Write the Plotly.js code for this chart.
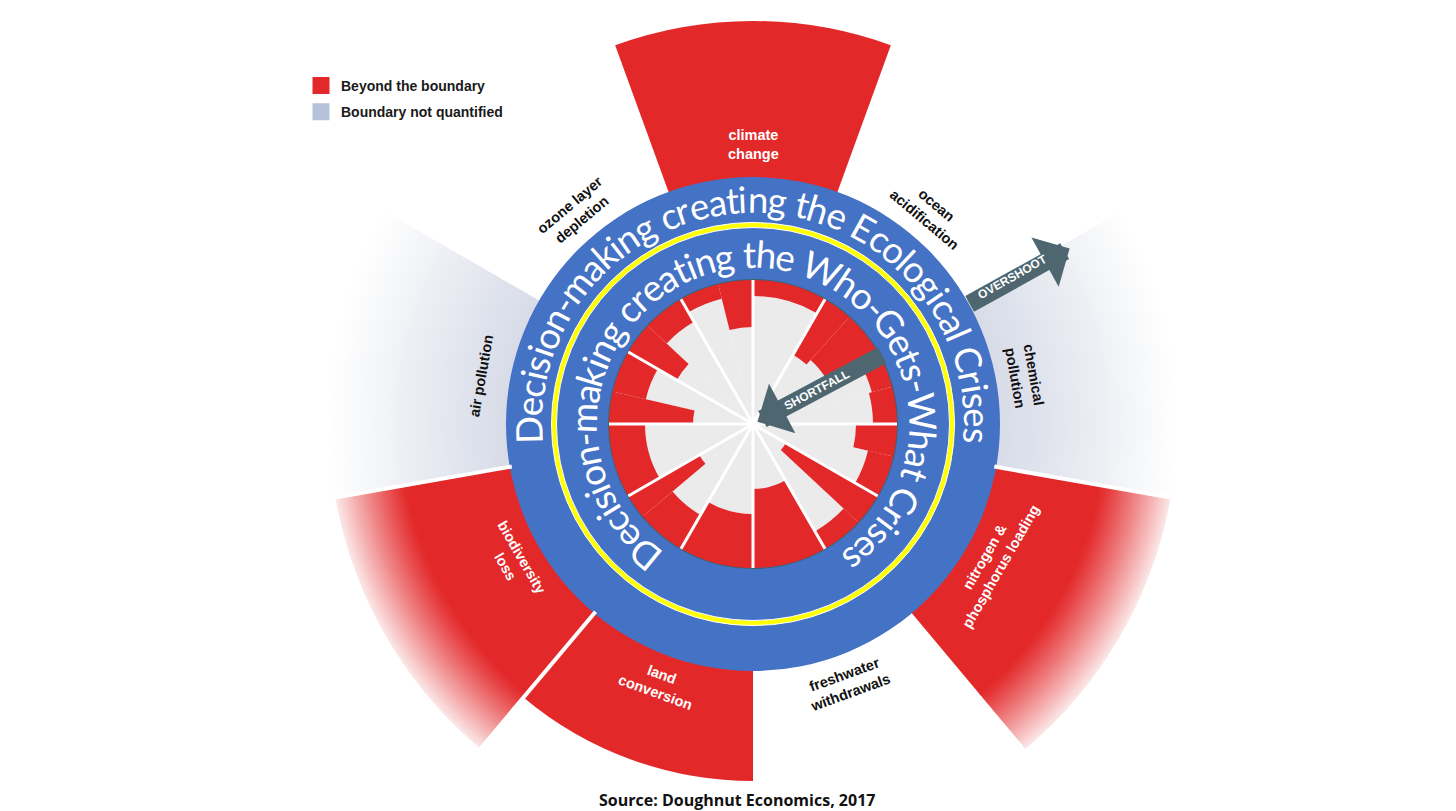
<!DOCTYPE html>
<html><head><meta charset="utf-8">
<script src="https://cdn.plot.ly/plotly-3.0.1.min.js"></script>
<style>html,body{margin:0;padding:0;overflow:hidden;background:#fff}#chart{width:1456px;height:860px}</style>
</head><body><div id="chart"></div>
<script>
// ---------------- data ----------------
const boundaryNames = ['climate<br>change','ocean<br>acidification','chemical<br>pollution','nitrogen &<br>phosphorus loading','freshwater<br>withdrawals','land<br>conversion','biodiversity<br>loss','air pollution','ozone layer<br>depletion'];
const boundaryCenters = [0,40,80,120,160,200,240,280,320];
const boundaryStatus = ['beyond','within','unquantified','beyond','within','beyond','beyond','unquantified','within'];
const boundaryReach = [403,0,424,432,0,357,432,424,0];
const boundaryOffChart = [false,false,true,true,false,false,true,true,false];

const socialStart = [0,30,42,60,75,90,103,120,133,150,180,210,230,240,270,283,300,313,330,346];
const socialEnd   = [30,42,60,75,90,103,120,133,150,180,210,230,240,270,283,300,313,330,346,360];
const socialAchieved = [128,80,86,123,120,103,118,38,124,65,90,105,62,108,60,110,88,118,129,97];
const sectorEdges = [0,30,60,90,120,150,180,210,240,270,300,330];

const legendLabels = ['Beyond the boundary','Boundary not quantified'];
const outerText = 'Decision-making creating the Ecological Crises';
const innerText = 'Decision-making creating the Who-Gets-What Crises';
const sourceText = 'Source: Doughnut Economics, 2017';

// ---------------- geometry / style ----------------
const W=1456, H=860, CX=753, CY=424, R=424;
const FOUNDATION=144, CEILING=247, YELLOW=199;
const RED='#e3282a', GREY_IN='#ebebeb', BLUE='#4472c4', NQ=[214,219,231], LEG_NQ='#b4c2dc', ARROW='#4d6670';
const LBL_FONT='Liberation Sans, Arial, sans-serif';

function mix(c1,c2,t){return 'rgb('+c1.map((v,i)=>Math.round(v+(c2[i]-v)*t)).join(',')+')';}
const REDRGB=[227,40,42], WHITE=[255,255,255];

// outer wedges
const oT=[],oB=[],oR=[],oW=[],oC=[];
function pushBar(t,b,r,w,c){oT.push(t);oB.push(b);oR.push(r);oW.push(w);oC.push(c);}
boundaryCenters.forEach((c,i)=>{
  const st=boundaryStatus[i]; if(st==='within') return;
  const reach=boundaryReach[i];
  if(st==='beyond' && !boundaryOffChart[i]){ pushBar(c,CEILING-6,reach-CEILING+6,40,RED); return; }
  let fadeStart=CEILING-6, col=NQ;
  if(st==='beyond'){ fadeStart=352; col=REDRGB; pushBar(c,CEILING-6,fadeStart-CEILING+6+2,40,RED); }
  const N=36, step=(reach-fadeStart)/N;
  for(let k=0;k<N;k++){ pushBar(c,fadeStart+k*step,step+1,40,mix(col,WHITE,Math.pow((k+0.5)/N,1.1))); }
});

// separators between adjacent drawn wedges
const sepR=[],sepT=[];
boundaryCenters.forEach((c,i)=>{
  const j=(i+1)%boundaryCenters.length;
  if(boundaryStatus[i]!=='within' && boundaryStatus[j]!=='within'){
    sepR.push(CEILING-2,R,null); sepT.push(c+20,c+20,null);
  }
});

// spokes
const spR=[],spT=[];
sectorEdges.forEach(a=>{spR.push(0,FOUNDATION,null);spT.push(a,a,null);});

const traces=[
  {type:'barpolar',theta:oT,base:oB,r:oR,width:oW,marker:{color:oC,line:{width:0}},showlegend:false,hoverinfo:'skip'},
  {type:'scatterpolar',mode:'lines',r:sepR,theta:sepT,line:{color:'#ffffff',width:4},showlegend:false,hoverinfo:'skip'},
  {type:'barpolar',theta:[0],width:[360],base:[FOUNDATION-1],r:[CEILING-FOUNDATION+1],marker:{color:BLUE,line:{width:0}},showlegend:false,hoverinfo:'skip'},
  {type:'barpolar',theta:[0],width:[360],base:[YELLOW-2.5],r:[5],marker:{color:'#ffff00',line:{color:'#ffffff',width:1}},showlegend:false,hoverinfo:'skip'},
  {type:'barpolar',theta:[0],width:[360],base:[FOUNDATION-0.5],r:[1.5],marker:{color:'#3b6470',line:{width:0}},showlegend:false,hoverinfo:'skip'},
  {type:'barpolar',theta:socialStart.map((s,i)=>(s+socialEnd[i])/2),width:socialStart.map((s,i)=>socialEnd[i]-s),
    base:socialAchieved.map(()=>0),r:socialAchieved,marker:{color:GREY_IN,line:{width:0}},showlegend:false,hoverinfo:'skip'},
  {type:'barpolar',theta:socialStart.map((s,i)=>(s+socialEnd[i])/2),width:socialStart.map((s,i)=>socialEnd[i]-s),
    base:socialAchieved,r:socialAchieved.map(v=>FOUNDATION-v),marker:{color:RED,line:{width:0}},showlegend:false,hoverinfo:'skip'},
  {type:'scatterpolar',mode:'lines',r:spR,theta:spT,line:{color:'#ffffff',width:3},showlegend:false,hoverinfo:'skip'},
  {type:'barpolar',theta:[0],r:[0],width:[1],name:legendLabels[0],legendgroup:'a',marker:{color:RED,line:{color:RED,width:6}},hoverinfo:'skip'},
  {type:'barpolar',theta:[0],r:[0],width:[1],name:legendLabels[1],legendgroup:'b',marker:{color:LEG_NQ,line:{color:LEG_NQ,width:6}},hoverinfo:'skip'}
];

// ---------------- annotations ----------------
const ctx=document.createElement('canvas').getContext('2d');
function toPaper(r,deg){const a=deg*Math.PI/180;return {x:(CX+r*Math.sin(a))/W,y:1-(CY-r*Math.cos(a))/H};}
function norm(a){a=((a%360)+360)%360;return a>180?a-360:a;}
function arcText(str,rMid,centerDeg,spanDeg,family){
  const chars=[...str];
  ctx.font='100px '+family;
  let tot100=chars.reduce((s,c)=>s+ctx.measureText(c).width,0);
  const arcLen=rMid*spanDeg*Math.PI/180;
  const size=100*arcLen/tot100;
  ctx.font=size+'px '+family;
  const w=chars.map(c=>ctx.measureText(c).width);
  const tot=w.reduce((a,b)=>a+b,0);
  let acc=0;const res=[];
  chars.forEach((c,i)=>{
    const s=acc+w[i]/2;acc+=w[i];
    if(c===' ')return;
    const th=centerDeg-spanDeg/2+spanDeg*s/tot;
    const p=toPaper(rMid,th);
    res.push({xref:'paper',yref:'paper',x:p.x,y:p.y,text:c,showarrow:false,xanchor:'center',yanchor:'middle',
      textangle:norm(th),font:{family:family,size:size,color:'#ffffff'}});
  });
  return res;
}

const ann=[];
// boundary labels
boundaryNames.forEach((nm,i)=>{
  const th=boundaryCenters[i];
  const p=toPaper(i===0?279:276,th);
  const ta=(th>90&&th<270)?th-180:norm(th);
  ann.push({xref:'paper',yref:'paper',x:p.x,y:p.y,text:nm,showarrow:false,xanchor:'center',yanchor:'middle',
    textangle:ta,align:'center',font:{family:LBL_FONT,size:14.5,color:boundaryStatus[i]==='beyond'?'#ffffff':'#111111',weight:'bold'}});
});
// arrows
function arrow(rHead,rTail,th){
  const h=toPaper(rHead,th),a=th*Math.PI/180;
  return {xref:'paper',yref:'paper',x:h.x,y:h.y,ax:(rTail-rHead)*Math.sin(a),ay:-(rTail-rHead)*Math.cos(a),
    axref:'pixel',ayref:'pixel',text:'',showarrow:true,arrowhead:1,arrowsize:0.52,arrowwidth:18,arrowcolor:ARROW,standoff:0};
}
ann.push(arrow(5,148,62));
ann.push(arrow(362,246,61));
function arrowLabel(txt,r,th){const p=toPaper(r,th);return {xref:'paper',yref:'paper',x:p.x,y:p.y,text:txt,showarrow:false,
  xanchor:'center',yanchor:'middle',textangle:th-90,font:{family:LBL_FONT,size:12,color:'#ffffff',weight:'bold'}};}
ann.push(arrowLabel('SHORTFALL',72,62));
ann.push(arrowLabel('OVERSHOOT',298,60.5));
// curved ring texts
ann.push(...arcText(outerText,225,0,190,'Lato'));
ann.push(...arcText(innerText,170,0.5,291,'Lato'));
// source
ann.push({xref:'paper',yref:'paper',x:737/W,y:1-800/H,text:sourceText,showarrow:false,xanchor:'center',yanchor:'middle',
  font:{family:'Open Sans, sans-serif',size:16,color:'#111111',weight:'bold'}});

const layout={
  width:W,height:H,margin:{l:0,r:0,t:0,b:0},paper_bgcolor:'#ffffff',
  polar:{domain:{x:[(CX-R)/W,(CX+R)/W],y:[(H-CY-R)/H,(H-CY+R)/H]},bgcolor:'rgba(0,0,0,0)',barmode:'overlay',
    radialaxis:{range:[0,R],autorange:false,visible:false},
    angularaxis:{rotation:90,direction:'clockwise',visible:false}},
  showlegend:true,
  legend:{x:301/W,xanchor:'left',y:1-70/H,yanchor:'top',bgcolor:'rgba(0,0,0,0)',tracegroupgap:5,
    font:{family:LBL_FONT,size:14,color:'#1a1a1a',weight:'bold'}},
  annotations:ann
};
Plotly.newPlot('chart',traces,layout,{displayModeBar:false,staticPlot:true});
</script></body></html>
